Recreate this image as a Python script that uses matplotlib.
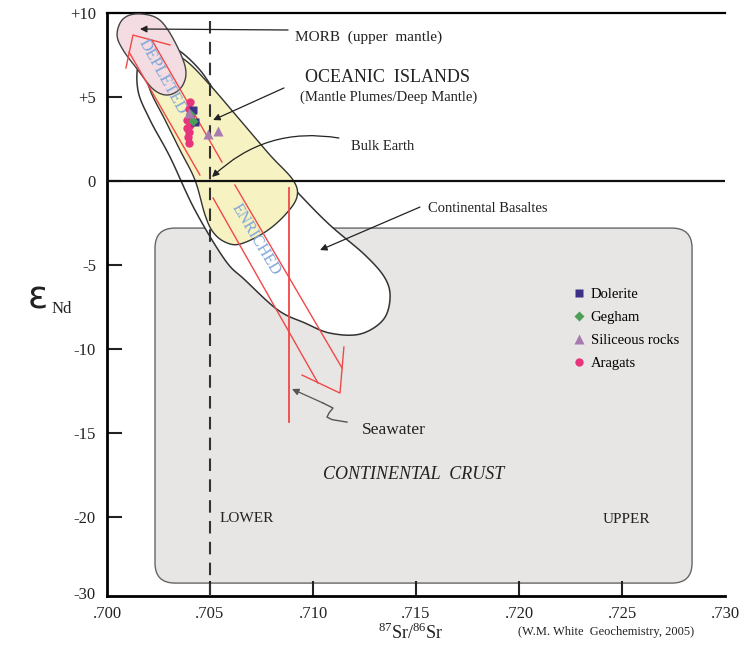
# === IMPORTS: THIRD-PARTY ===
import numpy as np
import matplotlib
matplotlib.use("Agg")
import matplotlib.pyplot as plt
from matplotlib.patches import Polygon, FancyBboxPatch

plt.rcParams['font.family'] = ['Liberation Serif', 'DejaVu Sans']
plt.rcParams['mathtext.fontset'] = 'custom'
plt.rcParams['mathtext.rm'] = 'Liberation Serif'

# === DATA ===
# samples (87Sr/86Sr, eNd)
dolerite_sr = [0.70417, 0.70427]
dolerite_end = [4.23, 3.51]
gegham_sr = [0.70417, 0.70403]
gegham_end = [3.57, 3.99]
siliceous_sr = [0.70490, 0.70539, 0.70398]
siliceous_end = [2.80, 2.98, 4.05]
aragats_sr = [0.70403, 0.70398, 0.70408, 0.70388, 0.70403, 0.70388, 0.70398, 0.70393, 0.70398]
aragats_end = [4.70, 4.29, 3.93, 3.63, 3.33, 3.15, 2.92, 2.62, 2.26]

# reservoir fields (outline points, smoothed later)
morb_sr = [0.70049, 0.70073, 0.70136, 0.70233, 0.70296, 0.70364, 0.70383, 0.70354, 0.70291, 0.70223,
           0.70150, 0.70078]
morb_end = [8.69, 9.58, 9.94, 9.76, 8.99, 7.38, 6.31, 5.48, 5.12, 5.48, 6.61, 7.80]

oib_sr = [0.70257, 0.70379, 0.70500, 0.70646, 0.70791, 0.70903, 0.70922, 0.70864, 0.70767,
          0.70646, 0.70573, 0.70515, 0.70476, 0.70427, 0.70354, 0.70282, 0.70209, 0.70184]
oib_end = [7.92, 7.20, 5.71, 3.63, 1.55, 0.06, -0.95, -2.02, -3.04,
           -3.75, -3.63, -3.04, -2.02, 0.06, 1.85, 3.63, 5.42, 6.90]

cfb_sr = [0.70160, 0.70257, 0.70345, 0.70451, 0.70534, 0.70597, 0.70781, 0.70937, 0.71082, 0.71252,
          0.71349, 0.71374, 0.71340, 0.71228, 0.71082, 0.70961, 0.70830, 0.70670, 0.70573, 0.70427,
          0.70306, 0.70209, 0.70150]
cfb_end = [7.20, 8.10, 7.80, 6.61, 5.12, 4.11, 1.25, -0.83, -2.62, -4.40,
           -5.77, -6.96, -8.27, -9.11, -9.05, -8.45, -7.68, -5.89, -4.70, -1.73,
           1.43, 3.63, 5.42]

crust_sr = [0.70233, 0.72840]
crust_end = [-23.93, -2.80]

# red trend arrows
depleted_head_sr = [0.70092, 0.70126, 0.70306]
depleted_head_end = [6.73, 8.69, 8.10]
depleted_shaft_sr = [[0.70107, 0.70451], [0.70218, 0.70558]]
depleted_shaft_end = [[7.68, 0.36], [8.39, 1.13]]
enriched_head_sr = [0.70947, 0.71131, 0.71150]
enriched_head_end = [-11.55, -12.62, -9.88]
enriched_shaft_sr = [[0.70515, 0.71024], [0.70621, 0.71141]]
enriched_shaft_end = [[-1.01, -12.02], [-0.24, -11.13]]
seawater_sr = [0.70883, 0.70883]
seawater_end = [-0.42, -14.35]

seawater_pointer_sr = [0.71165, 0.71092, 0.71068, 0.71078, 0.71097, 0.71048]
seawater_pointer_end = [-14.35, -14.20, -14.05, -13.80, -13.51, -13.21]

bulk_earth_sr = 0.705

x_ticks = [0.700, 0.705, 0.710, 0.715, 0.720, 0.725, 0.730]
x_labels = ['.700', '.705', '.710', '.715', '.720', '.725', '.730']
y_ticks = [10, 5, 0, -5, -10, -15, -20, -24.5]
y_labels = ['+10', '+5', '0', '-5', '-10', '-15', '-20', '-30']


def smooth_closed(xs, ys, n=24):
    # uniform catmull-rom through the outline points
    p = np.column_stack([xs, ys])
    m = len(p)
    out = []
    for i in range(m):
        p0, p1, p2, p3 = p[i - 1], p[i], p[(i + 1) % m], p[(i + 2) % m]
        for t in np.linspace(0, 1, n, endpoint=False):
            t2, t3 = t * t, t * t * t
            out.append(0.5 * ((2 * p1) + (-p0 + p2) * t + (2 * p0 - 5 * p1 + 4 * p2 - p3) * t2
                              + (-p0 + 3 * p1 - 3 * p2 + p3) * t3))
    return np.array(out)


fig = plt.figure(figsize=(7.42, 6.58), dpi=100)
ax = fig.add_axes([0.1442, 0.0942, 0.8329, 0.8860])
ax.set_xlim(0.700, 0.730)
ax.set_ylim(-24.7, 10)

red = '#f04848'

# continental crust box
x_px = 0.005 / 103.0
y_px = 5.0 / 84.0
r = 20 * x_px
crust = FancyBboxPatch((crust_sr[0], crust_end[0]), crust_sr[1] - crust_sr[0], crust_end[1] - crust_end[0],
                       boxstyle="round,pad=0,rounding_size=%f" % r, mutation_aspect=y_px / x_px,
                       facecolor='#e7e6e5', edgecolor='#666666', lw=1.0, zorder=1)
ax.add_patch(crust)

ax.add_patch(Polygon(smooth_closed(cfb_sr, cfb_end), closed=True, facecolor='white',
                     edgecolor='#333333', lw=1.1, zorder=2))
ax.add_patch(Polygon(smooth_closed(oib_sr, oib_end), closed=True, facecolor='#f7f2c2',
                     edgecolor='#333333', lw=1.0, zorder=3))
ax.add_patch(Polygon(smooth_closed(morb_sr, morb_end), closed=True, facecolor='#f4dde2',
                     edgecolor='#444444', lw=1.0, zorder=4))

# trend arrows
ax.plot(depleted_head_sr, depleted_head_end, color=red, lw=1.0, zorder=5)
ax.plot(enriched_head_sr, enriched_head_end, color=red, lw=1.0, zorder=5)
for xs, ys in zip(depleted_shaft_sr + enriched_shaft_sr, depleted_shaft_end + enriched_shaft_end):
    ax.plot(xs, ys, color=red, lw=1.0, zorder=5)
ax.plot(seawater_sr, seawater_end, color=red, lw=1.3, zorder=5)

# reference lines
ax.axhline(0, color='#111111', lw=1.6, zorder=6)
ax.axvline(bulk_earth_sr, color='#333333', lw=1.5, ls=(0, (6, 4)), zorder=6)

# samples
ax.plot(aragats_sr, aragats_end, 'o', color='#e8347c', ms=6, mec='none', zorder=7, label='Aragats')
ax.plot(dolerite_sr, dolerite_end, 's', color='#3b3287', ms=6, mec='none', zorder=8, label='Dolerite')
ax.plot(gegham_sr, gegham_end, 'D', color='#4d9e57', ms=5, mec='none', zorder=9, label='Gegham')
ax.plot(siliceous_sr, siliceous_end, '^', color='#a77bb0', ms=7.5, mec='none', zorder=9, label='Siliceous rocks')

handles, labels = ax.get_legend_handles_labels()
order = [1, 2, 3, 0]
ax.legend([handles[i] for i in order], [labels[i] for i in order], loc='upper left',
          bbox_to_anchor=(0.745, 0.538), frameon=False, fontsize=10.5, handlelength=0.8,
          handletextpad=0.4, labelspacing=0.66, borderaxespad=0)

# labels and arrows
arrow = dict(arrowstyle='-|>', color='#222222', lw=0.9, mutation_scale=10, shrinkA=0, shrinkB=0)
ax.annotate('', xy=(0.70160, 9.05), xytext=(0.70879, 8.99), arrowprops=arrow, zorder=10)
ax.text(0.70913, 8.57, 'MORB  (upper  mantle)', fontsize=11, va='center', ha='left', color='#222222')
ax.annotate('', xy=(0.70515, 3.63), xytext=(0.70859, 5.54), arrowprops=arrow, zorder=10)
ax.text(0.70961, 6.19, 'OCEANIC  ISLANDS', fontsize=13, va='center', ha='left', color='#222222')
ax.text(0.70937, 5.00, '(Mantle Plumes/Deep Mantle)', fontsize=10.5, va='center', ha='left', color='#222222')
ax.annotate('', xy=(0.70510, 0.24), xytext=(0.71126, 2.56),
            arrowprops=dict(arrow, connectionstyle='arc3,rad=0.25'), zorder=10)
ax.text(0.71184, 2.08, 'Bulk Earth', fontsize=10.5, va='center', ha='left', color='#222222')
ax.annotate('', xy=(0.71034, -4.11), xytext=(0.71519, -1.55), arrowprops=arrow, zorder=10)
ax.text(0.71558, -1.61, 'Continental Basaltes', fontsize=10.5, va='center', ha='left', color='#222222')

ax.plot(seawater_pointer_sr, seawater_pointer_end, color='#555555', lw=1.0, zorder=10)
ax.annotate('', xy=(0.70898, -12.38), xytext=(seawater_pointer_sr[-1], seawater_pointer_end[-1]),
            arrowprops=dict(arrow, color='#555555'), zorder=10)
ax.text(0.71238, -14.82, 'Seawater', fontsize=12.5, va='center', ha='left', color='#222222')

ax.text(0.71490, -17.44, 'CONTINENTAL  CRUST', fontsize=13, style='italic', va='center', ha='center',
        color='#222222', zorder=10)
ax.text(0.70680, -20.06, 'LOWER', fontsize=11, va='center', ha='center', color='#222222', zorder=10)
ax.text(0.72524, -20.12, 'UPPER', fontsize=11, va='center', ha='center', color='#222222', zorder=10)

ax.text(0.70267, 6.19, 'DEPLETED', fontsize=12, color='#7fa6d8', rotation=-61, ha='center', va='center',
        rotation_mode='anchor', zorder=6)
ax.text(0.70723, -3.51, 'ENRICHED', fontsize=11.5, color='#7fa6d8', rotation=-59, ha='center', va='center',
        rotation_mode='anchor', zorder=6)

# axes
ax.spines['right'].set_visible(False)
ax.spines['left'].set_linewidth(2.0)
ax.spines['bottom'].set_linewidth(2.0)
ax.spines['top'].set_linewidth(1.6)
ax.set_xticks(x_ticks)
ax.set_xticklabels(x_labels, fontsize=12)
ax.set_yticks(y_ticks)
ax.set_yticklabels(y_labels, fontsize=12)
ax.tick_params(axis='both', direction='in', length=11, width=1.5, colors='#222222')
ax.tick_params(axis='x', pad=7)
ax.tick_params(axis='y', pad=8)
for t in (ax.xaxis.get_major_ticks()[0], ax.xaxis.get_major_ticks()[-1], ax.yaxis.get_major_ticks()[-1]):
    t.tick1line.set_visible(False)

fig.text(0.051, 0.546, 'ε', fontsize=27, family='DejaVu Sans', ha='center', va='center', color='#222222')
fig.text(0.070, 0.531, 'Nd', fontsize=12, ha='left', va='center', color='#222222')
fig.text(0.553, 0.038, r'$^{87}\mathrm{Sr}/^{86}\mathrm{Sr}$', fontsize=13, ha='center', va='center',
         color='#222222')
fig.text(0.817, 0.040, '(W.M. White  Geochemistry, 2005)', fontsize=9, ha='center', va='center',
         color='#222222')

fig.savefig('out.png', dpi=100)
